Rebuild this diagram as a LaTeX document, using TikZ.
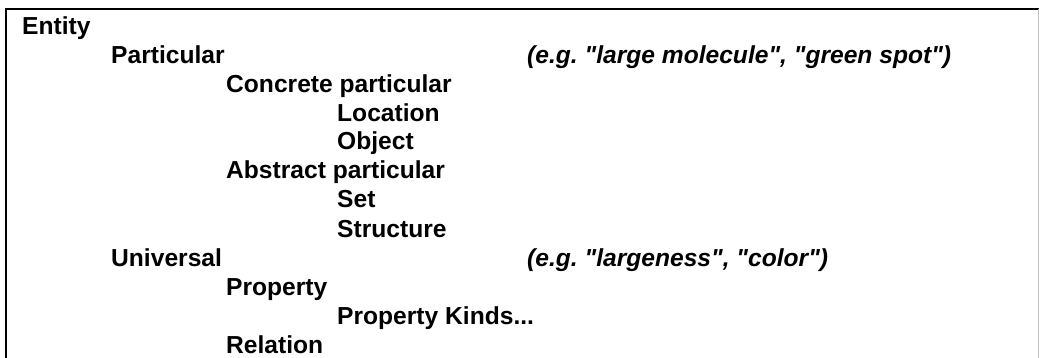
\documentclass[tikz,border=0pt]{standalone}
\usepackage{fontspec}
\setmainfont{Liberation Sans}[Ligatures=TeXOff]
\frenchspacing
\begin{document}
\begin{tikzpicture}[x=1pt,y=-1pt,
  item/.style={anchor=base west,inner sep=0pt,font=\fontsize{24.6}{28}\selectfont\bfseries},
  note/.style={anchor=base west,inner sep=0pt,font=\fontsize{24.6}{28}\selectfont\bfseries\itshape},
  frame/.style={line width=2pt,black}]
\useasboundingbox (0,0) rectangle (1039,358);
\coordinate (tl) at (6,9);
\coordinate (tr) at (1039,9);
\coordinate (bl) at (6,358);
\coordinate (rt) at (1038,9);
\coordinate (rb) at (1038,358);
\draw[frame] (tr) -- (tl) -- (bl);
\draw[line width=1pt,black!25] (rt) -- (rb);
\node[item] (entity) at (22,35) {Entity};
\node[item] (particular) at (111,64) {Particular};
\node[note] (pnote) at (527,64) {(e.g. "large molecule", "green spot")};
\node[item] (concrete) at (226,93) {Concrete particular};
\node[item] (location) at (337,122) {Location};
\node[item] (object) at (337,150) {Object};
\node[item] (abstract) at (226,179) {Abstract particular};
\node[item] (set) at (337,208) {Set};
\node[item] (structure) at (337,237) {Structure};
\node[item] (universal) at (111,266) {Universal};
\node[note] (unote) at (527,266) {(e.g. "largeness", "color")};
\node[item] (property) at (226,295) {Property};
\node[item] (kinds) at (337,324) {Property Kinds...};
\node[item] (relation) at (226,353) {Relation};
\end{tikzpicture}
\end{document}
